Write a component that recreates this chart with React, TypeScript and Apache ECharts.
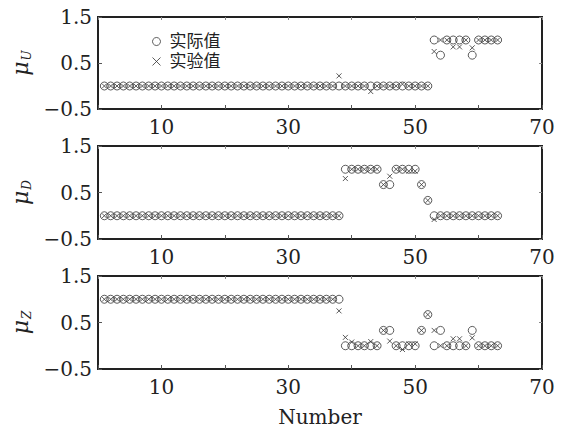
import React, { useEffect, useRef } from "react";
import * as echarts from "echarts";

const numbers = [
  1, 2, 3, 4, 5, 6, 7, 8, 9, 10, 11, 12, 13, 14, 15, 16, 17, 18, 19, 20,
  21, 22, 23, 24, 25, 26, 27, 28, 29, 30, 31, 32, 33, 34, 35, 36, 37, 38, 39, 40,
  41, 42, 43, 44, 45, 46, 47, 48, 49, 50, 51, 52, 53, 54, 55, 56, 57, 58, 59, 60,
  61, 62, 63,
];

// μU
const uActual = [
  0, 0, 0, 0, 0, 0, 0, 0, 0, 0, 0, 0, 0, 0, 0, 0, 0, 0, 0, 0,
  0, 0, 0, 0, 0, 0, 0, 0, 0, 0, 0, 0, 0, 0, 0, 0, 0, 0, 0, 0,
  0, 0, 0, 0, 0, 0, 0, 0, 0, 0, 0, 0, 1, 0.67, 1, 1, 1, 1, 0.67, 1,
  1, 1, 1,
];
const uExp = [
  0, 0, 0, 0, 0, 0, 0, 0, 0, 0, 0, 0, 0, 0, 0, 0, 0, 0, 0, 0,
  0, 0, 0, 0, 0, 0, 0, 0, 0, 0, 0, 0, 0, 0, 0, 0, 0, 0.22, 0, 0,
  0, 0, -0.12, 0, 0, 0, 0, 0.04, 0, 0, 0, 0, 0.75, 1, 1, 0.85, 0.85, 1, 0.83, 1,
  1, 1, 1,
];
// μD
const dActual = [
  0, 0, 0, 0, 0, 0, 0, 0, 0, 0, 0, 0, 0, 0, 0, 0, 0, 0, 0, 0,
  0, 0, 0, 0, 0, 0, 0, 0, 0, 0, 0, 0, 0, 0, 0, 0, 0, 0, 1, 1,
  1, 1, 1, 1, 0.67, 0.67, 1, 1, 1, 1, 0.67, 0.33, 0, 0, 0, 0, 0, 0, 0, 0,
  0, 0, 0,
];
const dExp = [
  0, 0, 0, 0, 0, 0, 0, 0, 0, 0, 0, 0, 0, 0, 0, 0, 0, 0, 0, 0,
  0, 0, 0, 0, 0, 0, 0, 0, 0, 0, 0, 0, 0, 0, 0, 0, 0, 0, 0.8, 1,
  1, 1, 1, 1, 0.67, 0.85, 1, 1, 0.96, 0.96, 0.67, 0.33, -0.08, 0, 0, 0, 0, 0, 0, 0,
  0, 0, 0,
];
// μZ
const zActual = [
  1, 1, 1, 1, 1, 1, 1, 1, 1, 1, 1, 1, 1, 1, 1, 1, 1, 1, 1, 1,
  1, 1, 1, 1, 1, 1, 1, 1, 1, 1, 1, 1, 1, 1, 1, 1, 1, 1, 0, 0,
  0, 0, 0, 0, 0.33, 0.33, 0, 0, 0, 0, 0.33, 0.67, 0, 0.33, 0, 0, 0, 0, 0.33, 0,
  0, 0, 0,
];
const zExp = [
  1, 1, 1, 1, 1, 1, 1, 1, 1, 1, 1, 1, 1, 1, 1, 1, 1, 1, 1, 1,
  1, 1, 1, 1, 1, 1, 1, 1, 1, 1, 1, 1, 1, 1, 1, 1, 1, 0.75, 0.18, 0.08,
  0, 0, 0.09, 0, 0.33, 0.1, 0, -0.08, 0.04, 0.04, 0.33, 0.67, 0.33, 0, 0, 0.15, 0.15, 0, 0.17, 0,
  0, 0, 0,
];

const xTicks = [0, 10, 20, 30, 40, 50, 60, 70];
const xLabels = ["10", "30", "50", "70"];
const yTicks = [-0.5, 0.5, 1.5];
const panelNames = ["U", "D", "Z"];
const legendNames = ["实际值", "实验值"];

const SERIF = "DejaVu Serif";
const INK = "#222";

export default function App() {
  const ref = useRef<HTMLDivElement>(null);
  useEffect(() => {
    if (!ref.current) return;
    const chart = echarts.init(ref.current, null, { renderer: "svg" });
    const tops = [17, 146, 276];
    const heights = [92, 93, 93];
    const actual = [uActual, dActual, zActual];
    const exp = [uExp, dExp, zExp];
    const grids = tops.map((t, i) => ({
      left: 98,
      top: t,
      width: 444,
      height: heights[i],
      show: true,
      borderColor: INK,
      borderWidth: 2,
      backgroundColor: "transparent",
    }));
    const xAxes: any[] = [];
    const yAxes: any[] = [];
    tops.forEach((_, i) => {
      xAxes.push({
        type: "value",
        gridIndex: i,
        min: xTicks[0],
        max: xTicks[xTicks.length - 1],
        interval: 10,
        splitLine: { show: false },
        axisLine: { show: false, onZero: false },
        axisTick: { show: true, inside: true, length: 4, lineStyle: { color: "#555" } },
        axisLabel: {
          fontFamily: SERIF,
          fontSize: 20,
          color: INK,
          margin: 8,
          formatter: (v: number) => (xLabels.includes(String(v)) ? String(v) : ""),
        },
        name: i === 2 ? "Number" : "",
        nameLocation: "middle",
        nameGap: 38,
        nameTextStyle: { fontFamily: SERIF, fontSize: 20, color: INK },
      });
      xAxes.push({
        type: "value",
        gridIndex: i,
        position: "top",
        min: xTicks[0],
        max: xTicks[xTicks.length - 1],
        interval: 10,
        splitLine: { show: false },
        axisLine: { show: false, onZero: false },
        axisTick: { show: true, inside: true, length: 3, lineStyle: { color: "#888" } },
        axisLabel: { show: false },
      });
      yAxes.push({
        type: "value",
        gridIndex: i,
        min: yTicks[0],
        max: yTicks[yTicks.length - 1],
        interval: 1,
        splitLine: { show: false },
        axisLine: { show: false, onZero: false },
        axisTick: { show: true, inside: true, length: 4, lineStyle: { color: "#555" } },
        axisLabel: {
          fontFamily: SERIF,
          fontSize: 20,
          color: INK,
          margin: 6,
          formatter: (v: number) => (v < 0 ? "\u2212" + Math.abs(v).toFixed(1) : v.toFixed(1)),
        },
        name: "{m|μ}{s|" + panelNames[i] + "}",
        nameLocation: "middle",
        nameRotate: 90,
        nameGap: 60,
        nameTextStyle: {
          rich: {
            m: { fontFamily: SERIF, fontStyle: "italic", fontSize: 22, color: INK },
            s: {
              fontFamily: SERIF,
              fontStyle: "italic",
              fontSize: 12,
              color: INK,
              verticalAlign: "bottom",
              padding: [12, 0, 0, 1],
            },
          },
        },
      });
      yAxes.push({
        type: "value",
        gridIndex: i,
        position: "right",
        min: yTicks[0],
        max: yTicks[yTicks.length - 1],
        interval: 1,
        splitLine: { show: false },
        axisLine: { show: false, onZero: false },
        axisTick: { show: true, inside: true, length: 3, lineStyle: { color: "#888" } },
        axisLabel: { show: false },
      });
    });
    const series: any[] = [];
    tops.forEach((_, i) => {
      series.push({
        type: "scatter",
        name: legendNames[0],
        xAxisIndex: i * 2,
        yAxisIndex: i * 2,
        symbol: "circle",
        symbolSize: 8,
        itemStyle: { color: "transparent", borderColor: "#333", borderWidth: 1 },
        data: numbers.map((n, k) => [n, actual[i][k]]),
      });
      series.push({
        type: "scatter",
        name: legendNames[1],
        xAxisIndex: i * 2,
        yAxisIndex: i * 2,
        symbol: "path://M0,0L10,10M0,10L10,0",
        symbolSize: 5,
        itemStyle: { color: "transparent", borderColor: "#333", borderWidth: 1 },
        data: numbers.map((n, k) => [n, exp[i][k]]),
      });
    });
    chart.setOption({
      animation: false,
      backgroundColor: "#fff",
      grid: grids,
      xAxis: xAxes,
      yAxis: yAxes,
      legend: {
        data: [
          { name: legendNames[0], itemStyle: { color: "transparent", borderColor: "#333", borderWidth: 1 } },
          {
            name: legendNames[1],
            icon: "path://M0,0L10,10M0,10L10,0",
            itemStyle: { color: "transparent", borderColor: "#333", borderWidth: 1 },
          },
        ],
        orient: "vertical",
        left: 147,
        top: 28,
        itemGap: 3,
        itemWidth: 8,
        itemHeight: 8,
        textStyle: {
          fontFamily: "'Liberation Serif', 'Noto Sans CJK SC'",
          fontSize: 17,
          color: INK,
          lineHeight: 16,
          padding: [0, 0, 0, 4],
        },
      },
      series,
    });
    return () => chart.dispose();
  }, []);
  return (
    <div
      ref={ref}
      style={{ position: "fixed", left: 0, top: 0, width: 562, height: 428 }}
    />
  );
}
